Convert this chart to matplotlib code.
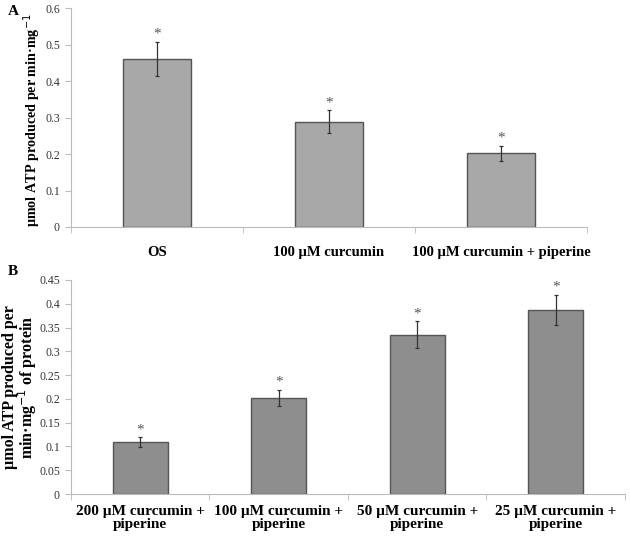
import matplotlib.pyplot as plt
import numpy as np

plt.rcParams['font.family'] = ['Liberation Serif', 'DejaVu Serif']

# panel A
labels_a = ['OS', '100 µM curcumin', '100 µM curcumin + piperine']
values_a = [0.46, 0.289, 0.202]
errors_a = [0.047, 0.031, 0.021]

# panel B
labels_b = ['200 µM curcumin +\npiperine', '100 µM curcumin +\npiperine',
            '50 µM curcumin +\npiperine', '25 µM curcumin +\npiperine']
values_b = [0.109, 0.202, 0.335, 0.387]
errors_b = [0.010, 0.017, 0.028, 0.032]

fig = plt.figure(figsize=(6.3, 5.37), dpi=100)
ax_a = fig.add_axes([0.1127, 0.5773, 0.819, 0.4077])
ax_b = fig.add_axes([0.1127, 0.080, 0.8793, 0.3986])


def draw(ax, labels, values, errors, color, ymax, step, xsize):
    n = len(labels)
    x = np.arange(n)
    ax.bar(x, values, width=0.4, color=color, edgecolor='#555555', linewidth=1.0, zorder=2)
    ax.errorbar(x, values, yerr=errors, fmt='none', ecolor='#333333',
                elinewidth=0.9, capsize=1.5, capthick=0.9, zorder=3)
    for xi, v, e in zip(x, values, errors):
        ax.text(xi, v + e + ymax * 0.005, '*', ha='center', va='bottom',
                fontsize=11, color='#555555')
    ax.set_xlim(-0.5, n - 0.5)
    ax.set_ylim(0, ymax)
    ticks = np.arange(0, ymax + step / 2, step)
    ax.set_yticks(ticks)
    ax.set_yticklabels([('%.2f' % t).rstrip('0').rstrip('.') for t in ticks],
                       fontsize=8.5, color='#333333')
    ax.set_xticks(x)
    ax.set_xticklabels(labels, fontsize=xsize, fontweight='bold', linespacing=0.95)
    ax.tick_params(axis='x', which='major', length=0, pad=14)
    ax.set_xticks(np.arange(-0.5, n), minor=True)
    ax.tick_params(axis='x', which='minor', length=4, color='#bbbbbb')
    ax.tick_params(axis='y', length=4, color='#bbbbbb', direction='out', pad=4)
    for s in ['top', 'right']:
        ax.spines[s].set_visible(False)
    for s in ['left', 'bottom']:
        ax.spines[s].set_color('#bbbbbb')


draw(ax_a, labels_a, values_a, errors_a, '#a8a8a8', 0.6, 0.1, 10.5)
draw(ax_b, labels_b, values_b, errors_b, '#8e8e8e', 0.45, 0.05, 11)
ax_b.tick_params(axis='x', which='major', pad=8)

ax_a.set_ylabel('µmol ATP produced per min·mg$^{-1}$', fontsize=10.2,
                fontweight='bold')
ax_a.yaxis.set_label_coords(-0.055, 0.49)
ax_b.set_ylabel('µmol ATP produced per\nmin·mg$^{-1}$ of protein', fontsize=11.5,
                fontweight='bold', linespacing=0.9)
ax_b.yaxis.set_label_coords(-0.057, 0.5)

fig.text(0.012, 0.978, 'A', fontsize=11, fontweight='bold', va='center')
fig.text(0.012, 0.495, 'B', fontsize=11, fontweight='bold', va='center')

fig.savefig('out.png', dpi=100)
